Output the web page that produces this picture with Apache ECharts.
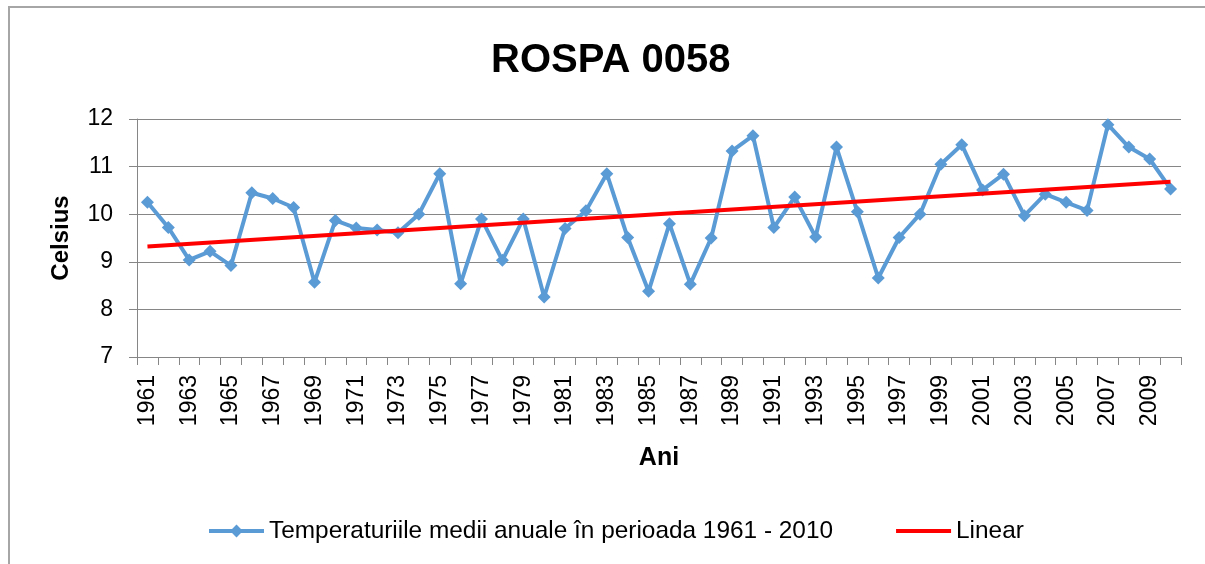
<!DOCTYPE html>
<html>
<head>
<meta charset="utf-8">
<script src="https://cdn.jsdelivr.net/npm/echarts@6/dist/echarts.min.js"></script>
<style>
html,body{margin:0;padding:0;background:#fff;overflow:hidden;}
#frame{position:absolute;left:8px;top:6px;width:1210px;height:600px;border:2px solid #a6a6a6;box-sizing:border-box;}
#chart{position:absolute;left:0;top:0;width:1205px;height:564px;}
</style>
</head>
<body>
<div id="frame"></div>
<div id="chart"></div>
<script>
const years = [];
for (let y = 1961; y <= 2010; y++) years.push(String(y));

const temps = [
  10.25, 9.72, 9.04, 9.22, 8.92, 10.45, 10.33, 10.14, 8.57, 9.87,
  9.71, 9.67, 9.61, 10.00, 10.85, 8.54, 9.90, 9.03, 9.90, 8.26,
  9.70, 10.07, 10.85, 9.51, 8.38, 9.80, 8.53, 9.50, 11.33, 11.65,
  9.72, 10.36, 9.52, 11.41, 10.05, 8.66, 9.51, 10.00, 11.05, 11.46,
  10.51, 10.84, 9.97, 10.42, 10.25, 10.08, 11.88, 11.41, 11.16, 10.53
];

const trendStart = 9.32;
const trendEnd = 10.68;

const yTicks = [7, 8, 9, 10, 11, 12];

const trend = years.map((_, i) => i === 0 ? trendStart : (i === years.length - 1 ? trendEnd : null));

const FONT = 'Liberation Sans';
const chart = echarts.init(document.getElementById('chart'), null, {renderer: 'canvas'});
chart.setOption({
  backgroundColor: 'transparent',
  animation: false,
  textStyle: {fontFamily: FONT},
  title: {
    text: 'ROSPA 0058',
    left: 486,
    top: 36,
    textStyle: {fontFamily: FONT, fontSize: 40, fontWeight: 'bold', color: '#000'}
  },
  legend: {
    left: 202,
    top: 514,
    itemWidth: 55,
    itemHeight: 16,
    itemGap: 61,
    textStyle: {fontFamily: FONT, fontSize: 24.4, color: '#000'},
    data: [
      {name: 'Temperaturiile medii anuale în perioada 1961 - 2010', lineStyle: {width: 4}},
      {name: 'Linear', lineStyle: {width: 4}, itemStyle: {opacity: 0}}
    ]
  },
  grid: {left: 137, right: 24, top: 119, bottom: 207, containLabel: false},
  xAxis: {
    type: 'category',
    data: years,
    boundaryGap: true,
    name: 'Ani',
    nameLocation: 'middle',
    nameGap: 89,
    nameTextStyle: {fontFamily: FONT, fontSize: 25, fontWeight: 'bold', color: '#000'},
    axisLine: {lineStyle: {color: '#868686', width: 1}},
    axisTick: {show: true, interval: 0, length: 8, lineStyle: {color: '#868686'}},
    axisLabel: {interval: 1, rotate: 90, margin: 18, fontFamily: FONT, fontSize: 23, color: '#000'},
    splitLine: {show: false}
  },
  yAxis: {
    type: 'value',
    min: yTicks[0],
    max: yTicks[yTicks.length - 1],
    interval: 1,
    name: 'Celsius',
    nameLocation: 'middle',
    nameGap: 64,
    nameRotate: 90,
    nameTextStyle: {fontFamily: FONT, fontSize: 24, fontWeight: 'bold', color: '#000'},
    axisLine: {show: true, lineStyle: {color: '#868686', width: 1}},
    axisTick: {show: true, length: 8, lineStyle: {color: '#868686'}},
    axisLabel: {margin: 24, fontFamily: FONT, fontSize: 23, color: '#000'},
    splitLine: {show: true, lineStyle: {color: '#868686', width: 1}}
  },
  series: [
    {
      name: 'Temperaturiile medii anuale în perioada 1961 - 2010',
      type: 'line',
      data: temps,
      symbol: 'diamond',
      symbolSize: 13,
      showAllSymbol: true,
      itemStyle: {color: '#5B9BD5'},
      lineStyle: {color: '#5B9BD5', width: 4},
      z: 2
    },
    {
      name: 'Linear',
      type: 'line',
      data: trend,
      connectNulls: true,
      symbol: 'none',
      itemStyle: {color: '#FF0000'},
      lineStyle: {color: '#FF0000', width: 4},
      z: 3
    }
  ]
});
</script>
</body>
</html>
